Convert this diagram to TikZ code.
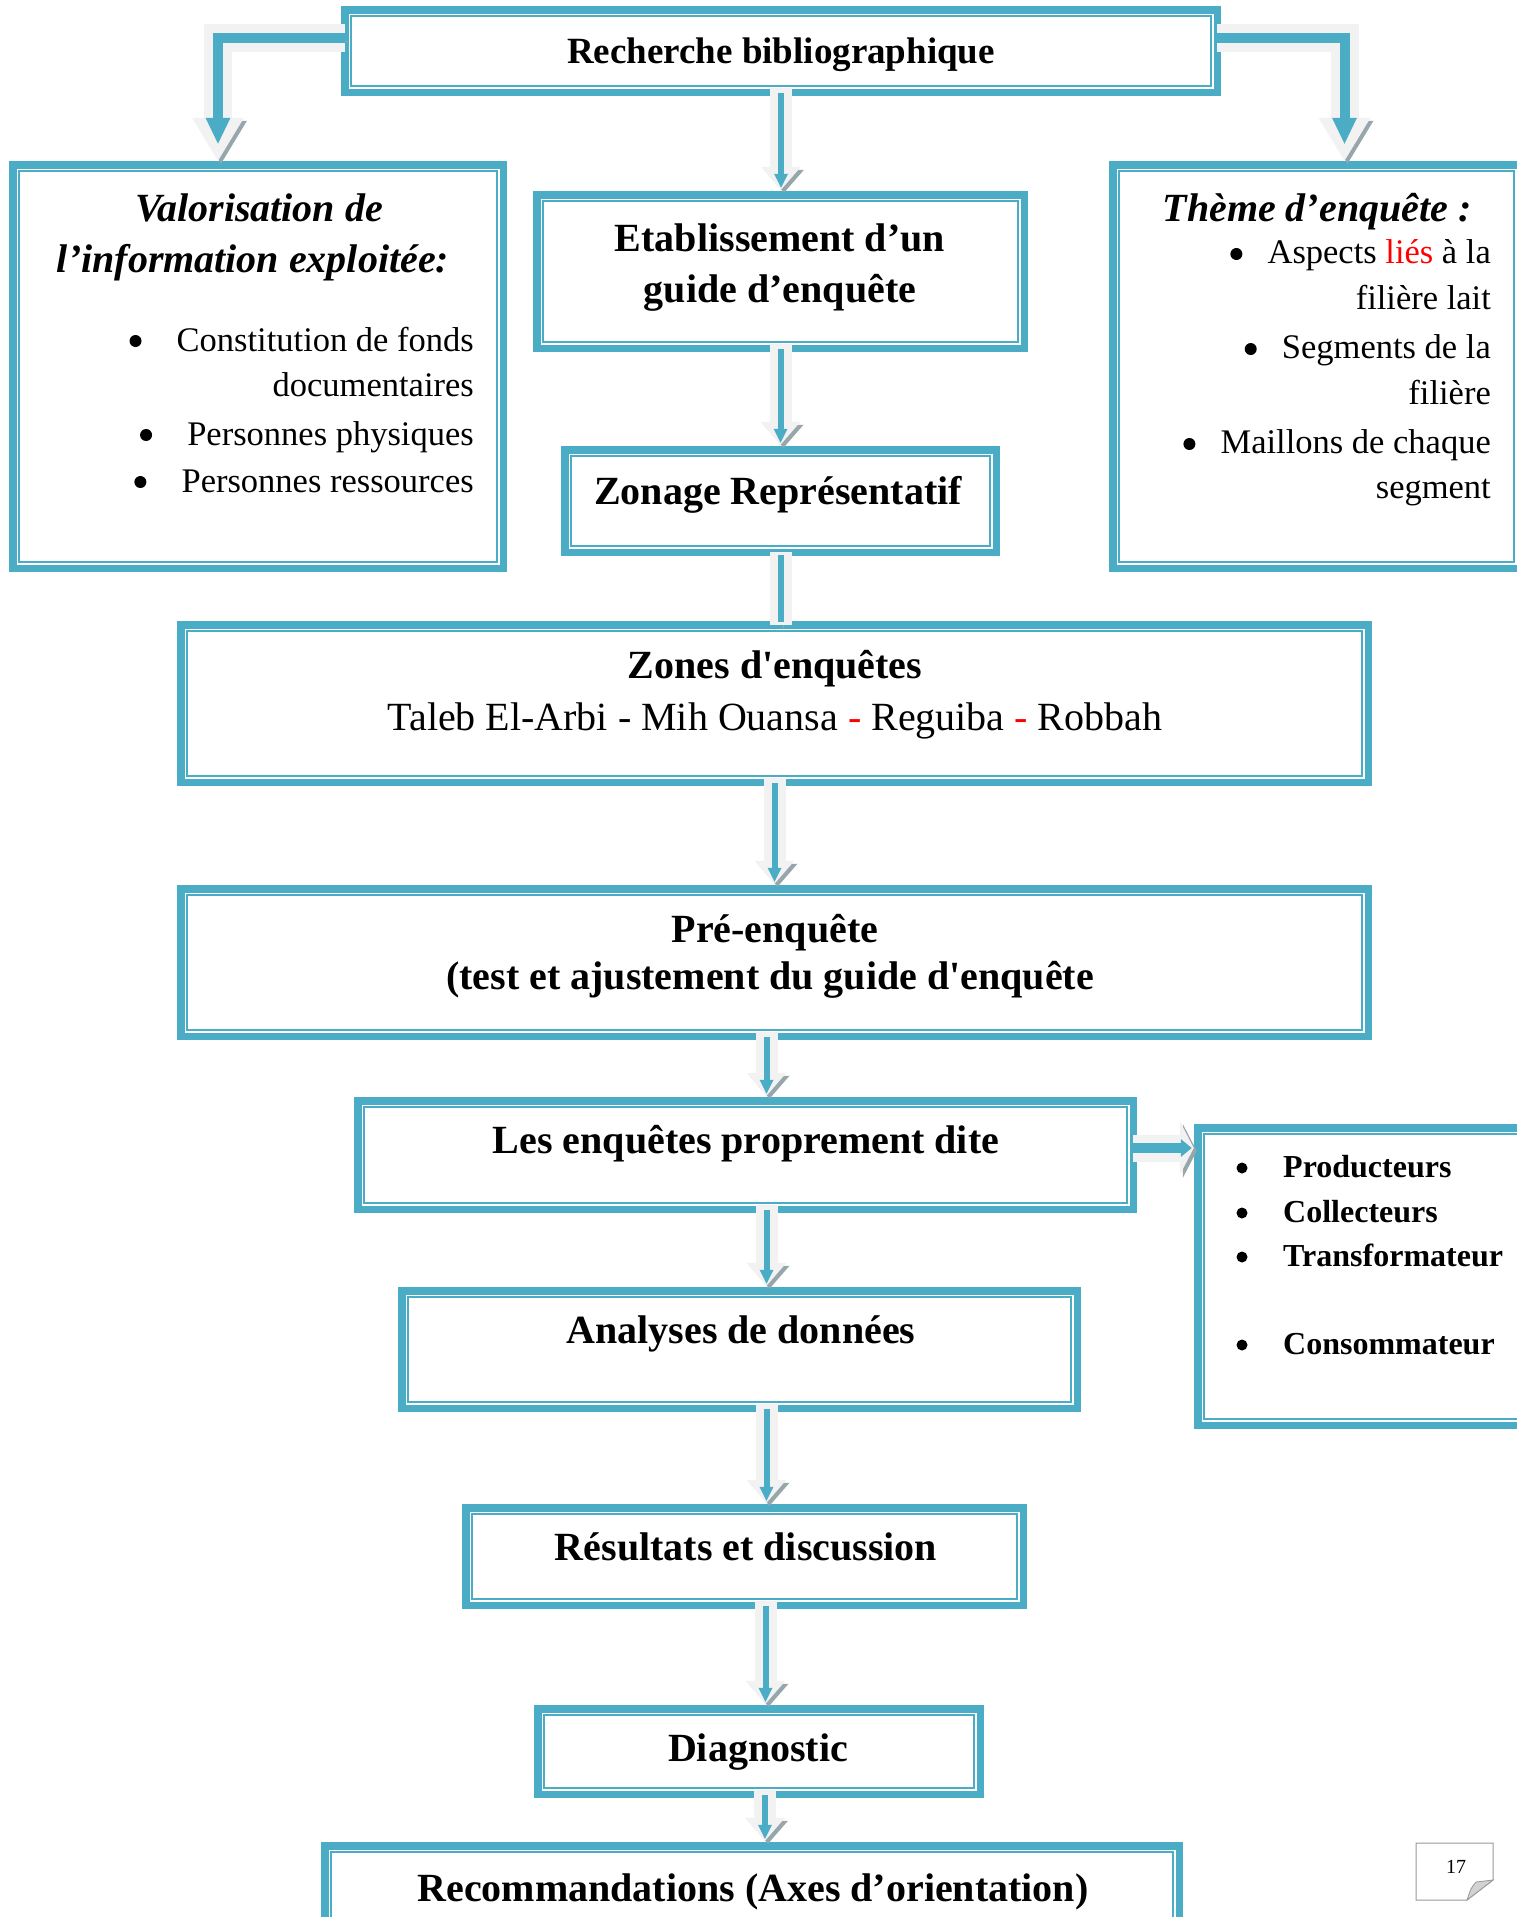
\documentclass[tikz,border=0pt]{standalone}
\usepackage{fontspec}
\setmainfont{Liberation Serif}
\usetikzlibrary{arrows.meta}
\definecolor{frameblue}{RGB}{75,172,198}
\definecolor{arrowgray}{RGB}{242,242,242}
\definecolor{shadowgray}{RGB}{150,166,171}
\tikzset{
  frame/.style     = {rectangle, draw=frameblue, line width=7.5pt, fill=white,
                      inner sep=0pt, outer sep=0pt,
                      path picture={\draw[frameblue, line width=1.6pt]
                        ([shift={(6.5pt,-6.5pt)}]path picture bounding box.north west)
                        rectangle
                        ([shift={(-6.5pt,6.5pt)}]path picture bounding box.south east);}},
  boxtitle/.style  = {anchor=base, inner sep=0pt,
                      font=\fontsize{40}{48}\selectfont\bfseries},
  boxtext/.style   = {anchor=base, inner sep=0pt,
                      font=\fontsize{40}{48}\selectfont},
  sidetitle/.style = {anchor=base, inner sep=0pt,
                      font=\fontsize{40}{48}\selectfont\bfseries\itshape},
  sideitem/.style  = {anchor=base east, inner sep=0pt,
                      font=\fontsize{34.5}{42}\selectfont},
  actoritem/.style = {anchor=base west, inner sep=0pt,
                      font=\fontsize{32}{40}\selectfont\bfseries},
  shadowed/.style  = {preaction={draw=shadowgray,
                      transform canvas={shift={(3pt,-3pt)}}}},
  flow/.style      = {draw=arrowgray, line width=22pt, shadowed,
                      -{Triangle[length=23pt, width=40pt, line width=0pt]},
                      postaction={draw=frameblue, line width=6pt,
                        shorten <=5pt, shorten >=2pt,
                        -{Triangle[length=14pt, width=14pt, line width=0pt]}}},
  flowwide/.style  = {draw=arrowgray, line width=28pt, line join=miter, shadowed,
                      -{Triangle[length=43pt, width=52pt, line width=0pt]},
                      postaction={draw=frameblue, line width=10pt,
                        shorten >=17pt,
                        -{Triangle[length=26pt, width=25pt, line width=0pt]}}},
  flowside/.style  = {draw=arrowgray, line width=27pt, shadowed,
                      -{Triangle[length=14pt, width=54pt, line width=0pt]},
                      postaction={draw=frameblue, line width=10pt,
                        shorten >=2pt,
                        -{Triangle[length=11pt, width=18pt, line width=0pt]}}},
  flowstem/.style  = {draw=arrowgray, line width=22pt, shadowed,
                      postaction={draw=frameblue, line width=6pt,
                        shorten <=3pt, shorten >=3pt}},
}

\begin{document}
\begin{tikzpicture}[x=1pt, y=-1pt]
  \useasboundingbox (0,0) rectangle (1517,1917);

  % boxes
  \node[frame, minimum width=872.5pt, minimum height=82.5pt] (rech) at (781,51) {};
  \node[frame, minimum width=490.5pt, minimum height=403.5pt] (valor) at (258,366.5) {};
  \node[frame, minimum width=407.5pt, minimum height=403.5pt] (theme) at (1316.5,366.5) {};
  \node[frame, minimum width=487.5pt, minimum height=153.5pt] (etab) at (780.5,271.5) {};
  \node[frame, minimum width=431.5pt, minimum height=102.5pt] (zonage) at (780.5,501) {};
  \node[frame, minimum width=1187.5pt, minimum height=157.5pt] (zones) at (774.5,703.5) {};
  \node[frame, minimum width=1187.5pt, minimum height=147.5pt] (pre) at (774.5,962.5) {};
  \node[frame, minimum width=775.5pt, minimum height=108.5pt] (les) at (745.5,1155) {};
  \node[frame, minimum width=358.5pt, minimum height=297.5pt] (prod) at (1377,1276.5) {};
  \node[frame, minimum width=675.5pt, minimum height=117.5pt] (analyses) at (739.5,1349.5) {};
  \node[frame, minimum width=557.5pt, minimum height=97.5pt] (resultats) at (744.5,1556.5) {};
  \node[frame, minimum width=442.5pt, minimum height=85.5pt] (diag) at (759,1751.5) {};
  \node[frame, minimum width=854.5pt, minimum height=110.5pt] (recomm) at (752,1901) {};

  % connectors
  \draw[flowwide] ([yshift=13pt]rech.west) -| ([xshift=-40pt,yshift=4pt]valor.north);
  \draw[flowwide] ([yshift=13pt]rech.east) -| ([xshift=28pt,yshift=4pt]theme.north);
  \draw[flow] ([yshift=4pt]rech.south) -- ([yshift=5pt]rech.south |- etab.north);
  \draw[flow] ([yshift=4pt]etab.south) -- ([yshift=5pt]etab.south |- zonage.north);
  \draw[flowstem] (zonage.south) -- (zonage.south |- zones.north);
  \draw[flow] ([yshift=4pt]zones.south) -- ([yshift=5pt]zones.south |- pre.north);
  \draw[flow] ([shift={(-8pt,4pt)}]pre.south) -- ([shift={(-8pt,5pt)}]pre.south |- les.north);
  \draw[flow] ([shift={(21pt,4pt)}]les.south) -- ([shift={(21pt,5pt)}]les.south |- analyses.north);
  \draw[flow] ([shift={(27pt,4pt)}]analyses.south) -- ([shift={(27pt,5pt)}]analyses.south |- resultats.north);
  \draw[flow] ([shift={(21pt,4pt)}]resultats.south) -- ([shift={(21pt,5pt)}]resultats.south |- diag.north);
  \draw[flow] ([shift={(6pt,4pt)}]diag.south) -- ([shift={(6pt,5pt)}]diag.south |- recomm.north);
  \draw[flowside] ([yshift=7pt]les.east) -- ([shift={(-4pt,7pt)}]prod.west |- les.east);

  % texts
  \node[boxtitle, font=\fontsize{37}{44}\selectfont\bfseries] (rechtext) at (781,63) {Recherche bibliographique};
  \node[sidetitle] (valortitle1) at (259,221) {Valorisation de};
  \node[sidetitle] (valortitle2) at (253,272) {l’information exploitée:};
  \node[sideitem] (valoritem1) at (474,351) {Constitution de fonds};
  \node[sideitem] (valoritem1b) at (474,396) {documentaires};
  \node[sideitem] (valoritem2) at (474,445) {Personnes physiques};
  \node[sideitem] (valoritem3) at (474,492) {Personnes ressources};

  \node[sidetitle] (themetitle) at (1317,221) {Thème d’enquête :};
  \node[sideitem] (themeitem1) at (1491,263) {Aspects \textcolor{red}{liés} à la};
  \node[sideitem] (themeitem1b) at (1491,309) {filière lait};
  \node[sideitem] (themeitem2) at (1491,358) {Segments de la};
  \node[sideitem] (themeitem2b) at (1491,404) {filière};
  \node[sideitem] (themeitem3) at (1491,453) {Maillons de chaque};
  \node[sideitem] (themeitem3b) at (1491,498) {segment};

  \node[boxtitle] (etabtext1) at (780,251) {Etablissement d’un};
  \node[boxtitle] (etabtext2) at (780,302) {guide d’enquête};
  \node[boxtitle] (zonagetext) at (778,504) {Zonage Représentatif};
  \node[boxtitle] (zonestext) at (775,678) {Zones d\textquotesingle enquêtes};
  \node[boxtext] (zoneslist) at (775,730)
    {Taleb El-Arbi - Mih Ouansa \textcolor{red}{-} Reguiba \textcolor{red}{-} Robbah};
  \node[boxtitle] (pretext1) at (775,942) {Pré-enquête};
  \node[boxtitle] (pretext2) at (770,989) {(test et ajustement du guide d\textquotesingle enquête};
  \node[boxtitle] (lestext) at (746,1153) {Les enquêtes proprement dite};
  \node[actoritem] (actor1) at (1283,1177) {Producteurs};
  \node[actoritem] (actor2) at (1283,1222) {Collecteurs};
  \node[actoritem] (actor3) at (1283,1266) {Transformateur};
  \node[actoritem] (actor4) at (1283,1354) {Consommateur};
  \node[boxtitle] (analysestext) at (741,1343) {Analyses de données};
  \node[boxtitle] (resultatstext) at (746,1560) {Résultats et discussion};
  \node[boxtitle] (diagtext) at (758,1761) {Diagnostic};
  \node[boxtitle] (recommtext) at (753,1901) {Recommandations (Axes d’orientation)};

  % bullets
  \fill ([shift={(-41pt,10pt)}]valoritem1.base west) circle (6pt);
  \fill ([shift={(-41pt,10pt)}]valoritem2.base west) circle (6pt);
  \fill ([shift={(-41pt,10pt)}]valoritem3.base west) circle (6pt);
  \fill ([shift={(-31pt,9pt)}]themeitem1.base west) circle (6pt);
  \fill ([shift={(-31pt,9pt)}]themeitem2.base west) circle (6pt);
  \fill ([shift={(-31pt,9pt)}]themeitem3.base west) circle (6pt);
  \fill ([shift={(-41pt,9pt)}]actor1.base west) circle (5.5pt);
  \fill ([shift={(-41pt,9pt)}]actor2.base west) circle (5.5pt);
  \fill ([shift={(-41pt,9pt)}]actor3.base west) circle (5.5pt);
  \fill ([shift={(-41pt,9pt)}]actor4.base west) circle (5.5pt);

  % page number
  \draw[gray!80, fill=white, line width=1pt]
    (1416,1843) -- (1493,1843) -- (1493,1880) -- (1467,1900) -- (1416,1900) -- cycle;
  \draw[gray!80, fill=gray!35, line width=0.8pt]
    (1467,1900) .. controls (1471,1888) .. (1476,1882)
    .. controls (1484,1881) .. (1493,1880) -- cycle;
  \node[anchor=base, inner sep=0pt, font=\fontsize{20}{24}\selectfont] (pagenum) at (1456,1873) {17};
\end{tikzpicture}
\end{document}
